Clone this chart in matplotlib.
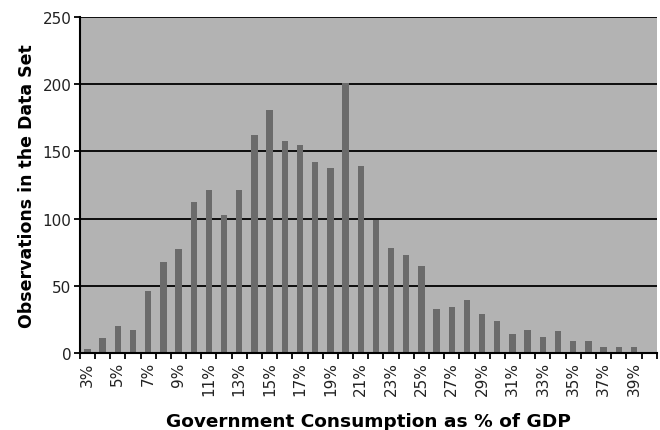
import numpy as np
import matplotlib.pyplot as plt

plt.rcParams['font.family'] = ['DejaVu Sans']

# Share of GDP categories (3% .. 40%) and observation counts
categories = [f"{p}%" for p in range(3, 41)]
counts = [3, 11, 20, 17, 46, 68, 77, 112, 121, 103, 121, 162, 181, 158, 155,
          142, 138, 201, 139, 99, 78, 73, 65, 33, 34, 39, 29, 24, 14, 17,
          12, 16, 9, 9, 4, 4, 4, 0]
y_ticks = [0, 50, 100, 150, 200, 250]

fig = plt.figure(figsize=(6.6, 4.31), dpi=100)
ax = fig.add_axes([0.121, 0.179, 0.874, 0.779])

x = np.arange(len(categories))
ax.set_facecolor('#b3b3b3')
ax.bar(x, counts, width=0.42, color='#6b6b6b', zorder=3)

ax.set_ylim(0, 250)
ax.set_xlim(-0.5, len(categories) - 0.5)
ax.set_yticks(y_ticks)
ax.set_yticklabels([str(v) for v in y_ticks], fontsize=11, color='#222222')
ax.yaxis.grid(True, color='black', linewidth=1.3, zorder=1)

# labels on every other category, tick marks between categories
ax.set_xticks(x[::2])
ax.set_xticklabels(categories[::2], rotation=90, fontsize=11, color='#222222')
ax.set_xticks(np.arange(len(categories) + 1) - 0.5, minor=True)
ax.tick_params(axis='x', which='major', length=0, pad=6)
ax.tick_params(axis='x', which='minor', length=4, width=1.3, direction='out')
ax.tick_params(axis='y', length=4, width=1.3, direction='out', pad=2)

for s in ['top', 'right']:
    ax.spines[s].set_visible(False)
for s in ['left', 'bottom']:
    ax.spines[s].set_linewidth(1.5)
    ax.spines[s].set_zorder(4)

ax.set_xlabel('Government Consumption as % of GDP', fontsize=13.3, fontweight='bold', labelpad=12)
ax.set_ylabel('Observations in the Data Set', fontsize=12.5, fontweight='bold', labelpad=5)

fig.savefig('out.png', dpi=100)
